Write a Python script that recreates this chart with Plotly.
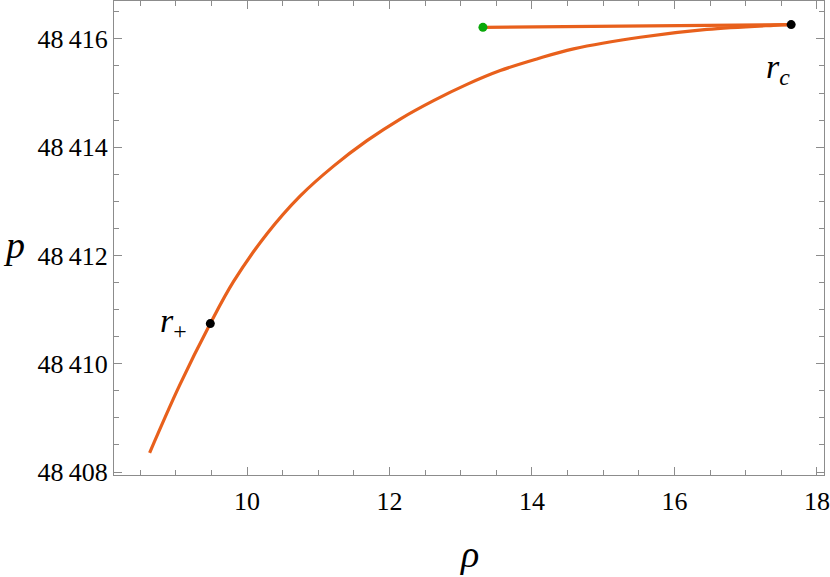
import plotly.graph_objects as go

# curve p(rho)
rho = [8.633, 9.05, 9.485, 9.812, 10.281, 10.748, 11.215, 11.684, 12.151, 12.619,
       13.088, 13.555, 14.070, 14.584, 15.520, 16.456, 17.391, 17.639]
p = [48408.354, 48409.59, 48410.742, 48411.52, 48412.40, 48413.10, 48413.65,
     48414.12, 48414.52, 48414.86, 48415.16, 48415.415, 48415.63, 48415.815,
     48416.03, 48416.175, 48416.25, 48416.264]

# straight segment from r_c back to the green point
seg_rho = [17.639, 13.312]
seg_p = [48416.264, 48416.214]

# marked points
r_plus = (9.485, 48410.742)
r_c = (17.639, 48416.264)
green_pt = (13.312, 48416.214)

orange = "#E8601C"
serif = "Liberation Serif"

fig = go.Figure()
fig.add_trace(go.Scatter(x=rho, y=p, mode="lines",
                         line=dict(color=orange, width=3.2, shape="spline", smoothing=1.0),
                         hoverinfo="skip"))
fig.add_trace(go.Scatter(x=seg_rho, y=seg_p, mode="lines", line=dict(color=orange, width=3.2),
                         hoverinfo="skip"))
fig.add_trace(go.Scatter(x=[green_pt[0]], y=[green_pt[1]], mode="markers",
                         marker=dict(color="#0AA80A", size=9)))
fig.add_trace(go.Scatter(x=[r_plus[0], r_c[0]], y=[r_plus[1], r_c[1]], mode="markers",
                         marker=dict(color="black", size=9)))

axis_common = dict(showgrid=False, zeroline=False, showline=True, linecolor="#8c8c8c", linewidth=1,
                   mirror="ticks", ticks="inside", tickcolor="#8c8c8c", ticklen=8, tickwidth=1,
                   automargin=False, ticklabeloverflow="allow",
                   tickfont=dict(family=serif, size=26, color="black"))

fig.update_xaxes(range=[8.133, 18.10], tickvals=[10, 12, 14, 16, 18], ticklabelstandoff=3,
                 minor=dict(ticks="inside", dtick=0.5, tick0=8, ticklen=5, tickcolor="#8c8c8c"),
                 **axis_common)
fig.update_yaxes(range=[48407.945, 48416.70], tickvals=[48408, 48410, 48412, 48414, 48416],
                 tickformat=",d",
                 minor=dict(ticks="inside", dtick=0.5, tick0=48408, ticklen=5, tickcolor="#8c8c8c"),
                 **axis_common)

fig.add_annotation(x=8.97, y=48410.75, text="<i>r</i><sub>+</sub>", showarrow=False,
                   font=dict(family=serif, size=34, color="black"))
fig.add_annotation(x=17.46, y=48415.44, text="<i>r</i><sub><i>c</i></sub>", showarrow=False,
                   font=dict(family=serif, size=34, color="black"))
fig.add_annotation(xref="paper", yref="paper", x=-0.159, xanchor="left", y=0.485,
                   text="<i>p</i>", showarrow=False,
                   font=dict(family=serif, size=38, color="black"))
fig.add_annotation(xref="paper", yref="paper", x=0.501, y=-0.215, text="<i>ρ</i>", showarrow=False,
                   font=dict(family=serif, size=38, color="black"))

fig.update_layout(width=830, height=577, margin=dict(l=114, r=6, t=1, b=102),
                  plot_bgcolor="white", paper_bgcolor="white", showlegend=False,
                  separators=".\u2009")

fig.write_html("out.html", config={"displayModeBar": False},
               post_script="document.body.style.margin='0';")
